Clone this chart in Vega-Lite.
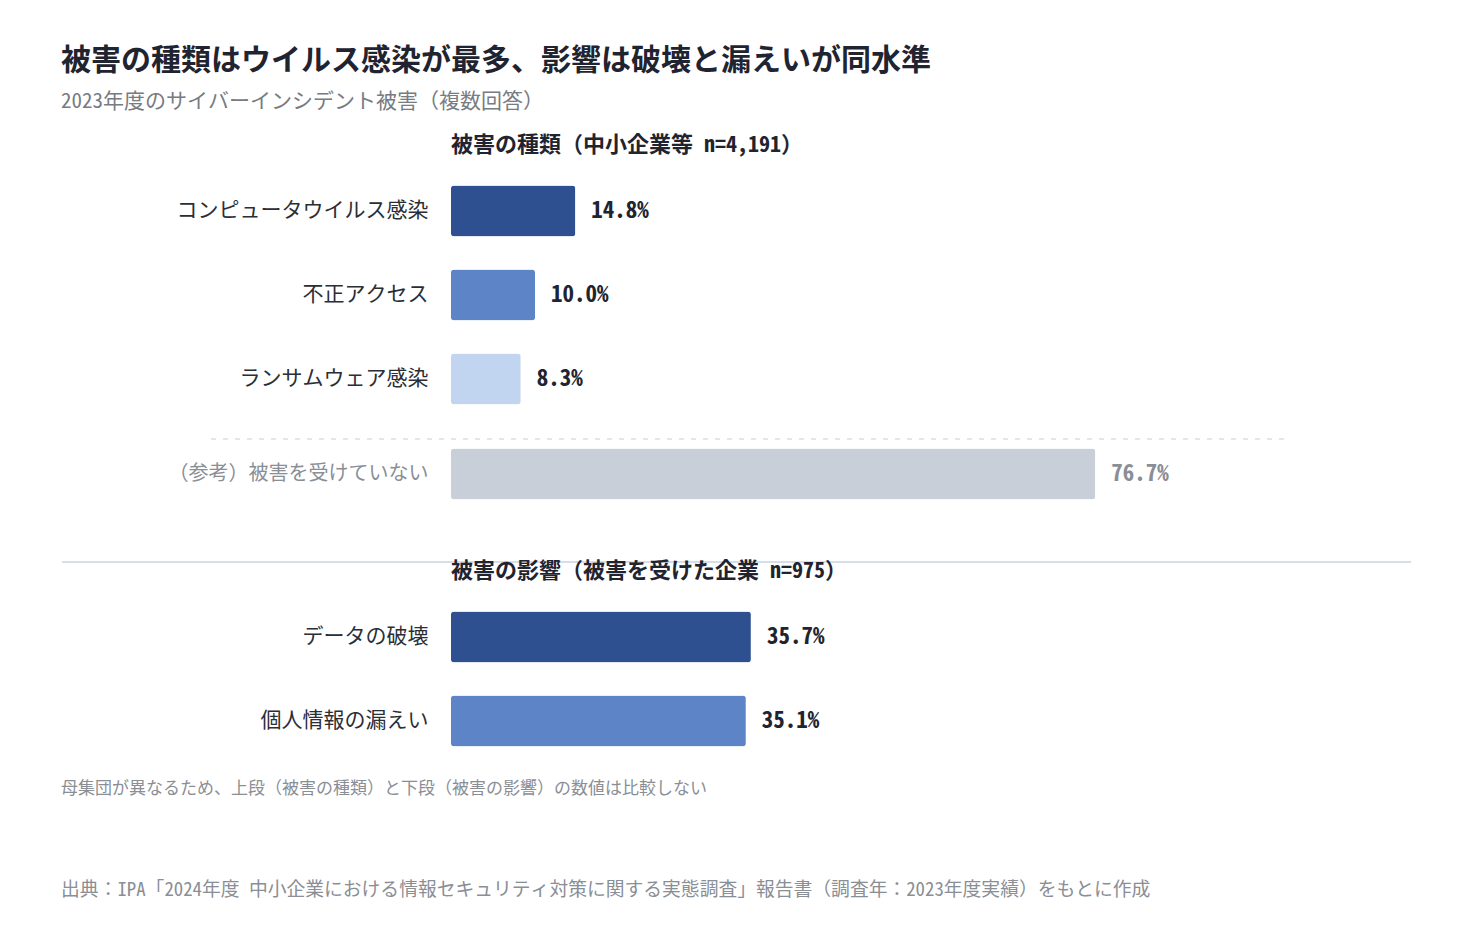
{
  "$schema": "https://vega.github.io/schema/vega-lite/v6.json",
  "padding": {"left": 61, "top": 46, "right": 20, "bottom": 20},
  "background": "white",
  "config": {
    "font": "Noto Sans Mono CJK JP",
    "view": {"stroke": null},
    "axis": {"labelFont": "Noto Sans Mono CJK JP"},
    "title": {"font": "Noto Sans Mono CJK JP"}
  },
  "title": {
    "text": "被害の種類はウイルス感染が最多、影響は破壊と漏えいが同水準",
    "subtitle": "2023年度のサイバーインシデント被害（複数回答）",
    "anchor": "start",
    "frame": "bounds",
    "fontSize": 30,
    "fontWeight": "bold",
    "color": "#1f2430",
    "subtitleFontSize": 21,
    "subtitleColor": "#777b82",
    "subtitlePadding": 15,
    "offset": 22
  },
  "data": {
    "values": [
      {"section": "種類", "item": "コンピュータウイルス感染", "value": 0.148},
      {"section": "種類", "item": "不正アクセス", "value": 0.1},
      {"section": "種類", "item": "ランサムウェア感染", "value": 0.083},
      {"section": "参考", "item": "（参考）被害を受けていない", "value": 0.767},
      {"section": "影響", "item": "データの破壊", "value": 0.357},
      {"section": "影響", "item": "個人情報の漏えい", "value": 0.351}
    ]
  },
  "vconcat": [
    {
      "bounds": "flush",
      "spacing": 0,
      "title": {
        "text": "母集団が異なるため、上段（被害の種類）と下段（被害の影響）の数値は比較しない",
        "subtitle": "出典：IPA「2024年度 中小企業における情報セキュリティ対策に関する実態調査」報告書（調査年：2023年度実績）をもとに作成",
        "orient": "bottom",
        "anchor": "start",
        "frame": "bounds",
        "fontSize": 17,
        "fontWeight": "normal",
        "color": "#8a8e95",
        "subtitleFontSize": 18.8,
        "subtitleColor": "#8a8e95",
        "subtitlePadding": 83,
        "offset": 18
      },
      "vconcat": [
        {
          "width": 840,
          "height": 252,
          "title": {
            "text": "被害の種類（中小企業等 n=4,191）",
            "anchor": "start",
            "frame": "group",
            "fontSize": 22,
            "fontWeight": "bold",
            "color": "#1f2430",
            "offset": 12
          },
          "transform": [{"filter": "datum.section === '種類'"}],
          "encoding": {
            "y": {
              "field": "item",
              "type": "nominal",
              "sort": null,
              "title": null,
              "scale": {"paddingInner": 0.393, "paddingOuter": 0.1965},
              "axis": {"ticks": false, "domain": false, "labelPadding": 23, "labelFontSize": 21, "labelColor": "#2a2e36", "labelLimit": 400}
            },
            "x": {"field": "value", "type": "quantitative", "scale": {"domain": [0, 1]}, "axis": null}
          },
          "layer": [
            {
              "mark": {"type": "bar", "cornerRadius": 3},
              "encoding": {
                "color": {
                  "field": "item",
                  "type": "nominal",
                  "legend": null,
                  "scale": {
                    "domain": ["コンピュータウイルス感染", "不正アクセス", "ランサムウェア感染"],
                    "range": ["#2e5090", "#5c84c7", "#c1d4f0"]
                  }
                }
              }
            },
            {
              "mark": {"type": "text", "align": "left", "dx": 16, "fontSize": 23, "fontWeight": "bold", "color": "#1f2430"},
              "encoding": {"text": {"field": "value", "format": ".1%"}}
            }
          ]
        },
        {
          "width": 840,
          "height": 174,
          "transform": [{"filter": "datum.section === '参考'"}],
          "encoding": {
            "y": {
              "field": "item",
              "type": "nominal",
              "title": null,
              "scale": {"paddingInner": 0, "paddingOuter": 1.206, "align": 0.207},
              "axis": {"ticks": false, "domain": false, "labelPadding": 23, "labelFontSize": 20, "labelColor": "#8a8e95", "labelLimit": 400}
            }
          },
          "layer": [
            {
              "mark": {"type": "rule", "yOffset": -35, "strokeDash": [5, 7], "strokeWidth": 2, "color": "#e2e6ee"},
              "encoding": {
                "x": {"datum": -0.2857, "type": "quantitative", "scale": {"domain": [0, 1]}, "axis": null},
                "x2": {"datum": 0.994}
              }
            },
            {
              "mark": {"type": "rule", "yOffset": 88, "strokeWidth": 2, "color": "#d6deea"},
              "encoding": {
                "x": {"datum": -0.463, "type": "quantitative", "scale": {"domain": [0, 1]}, "axis": null},
                "x2": {"datum": 1.143}
              }
            },
            {
              "mark": {"type": "bar", "cornerRadius": 3, "height": 51, "color": "#c9cfd9"},
              "encoding": {
                "x": {"field": "value", "type": "quantitative", "scale": {"domain": [0, 1]}, "axis": null}
              }
            },
            {
              "mark": {"type": "text", "align": "left", "dx": 16, "fontSize": 23, "fontWeight": "bold", "color": "#8a8e95"},
              "encoding": {
                "x": {"field": "value", "type": "quantitative", "scale": {"domain": [0, 1]}, "axis": null},
                "text": {"field": "value", "format": ".1%"}
              }
            }
          ]
        },
        {
          "width": 840,
          "height": 168,
          "title": {
            "text": "被害の影響（被害を受けた企業 n=975）",
            "anchor": "start",
            "frame": "group",
            "fontSize": 22,
            "fontWeight": "bold",
            "color": "#1f2430",
            "offset": 12
          },
          "transform": [{"filter": "datum.section === '影響'"}],
          "encoding": {
            "y": {
              "field": "item",
              "type": "nominal",
              "sort": null,
              "title": null,
              "scale": {"paddingInner": 0.393, "paddingOuter": 0.1965},
              "axis": {"ticks": false, "domain": false, "labelPadding": 23, "labelFontSize": 21, "labelColor": "#2a2e36", "labelLimit": 400}
            },
            "x": {"field": "value", "type": "quantitative", "scale": {"domain": [0, 1]}, "axis": null}
          },
          "layer": [
            {
              "mark": {"type": "bar", "cornerRadius": 3},
              "encoding": {
                "color": {
                  "field": "item",
                  "type": "nominal",
                  "legend": null,
                  "scale": {
                    "domain": ["データの破壊", "個人情報の漏えい"],
                    "range": ["#2e5090", "#5c84c7"]
                  }
                }
              }
            },
            {
              "mark": {"type": "text", "align": "left", "dx": 16, "fontSize": 23, "fontWeight": "bold", "color": "#1f2430"},
              "encoding": {"text": {"field": "value", "format": ".1%"}}
            }
          ]
        }
      ]
    }
  ]
}
